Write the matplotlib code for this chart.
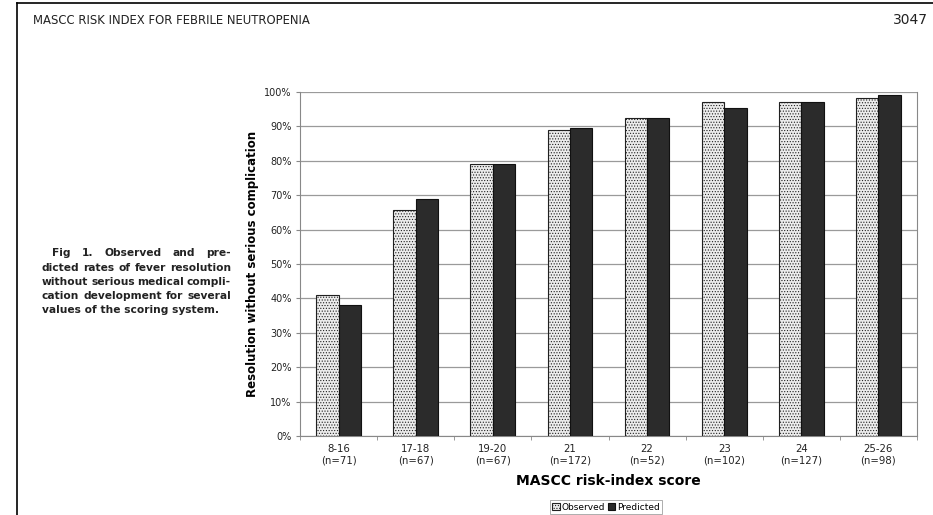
import matplotlib
matplotlib.use('Agg')
import matplotlib.pyplot as plt
from matplotlib.lines import Line2D
import numpy as np

scores = ['8-16', '17-18', '19-20', '21', '22', '23', '24', '25-26']
counts = [71, 67, 67, 172, 52, 102, 127, 98]
observed = [41, 65.8, 79.2, 89.0, 92.4, 97.2, 97.0, 98.2]
predicted = [38, 68.8, 79.2, 89.5, 92.4, 95.3, 97.0, 99.1]

caption = ['Fig 1. Observed and pre-',
           'dicted rates of fever resolution',
           'without serious medical compli-',
           'cation development for several',
           'values of the scoring system.']

plt.rcParams['hatch.color'] = '#9a9a9a'
plt.rcParams['hatch.linewidth'] = 0.5

fig = plt.figure(figsize=(9.33, 5.15), dpi=100)
ax = fig.add_axes([300/933, 79/515, 617/933, 344/515])

x = np.arange(len(scores))
w = 0.29
ax.bar(x - w/2, observed, w, color='#ececec', edgecolor='#202020', linewidth=0.8,
       hatch='......', label='Observed', zorder=3)
ax.bar(x + w/2, predicted, w, color='#2b2b2b', edgecolor='#111111', linewidth=0.8,
       label='Predicted', zorder=3)

ax.set_xlim(-0.5, len(scores) - 0.5)
ax.set_ylim(0, 100)
ax.set_yticks(np.arange(0, 101, 10))
ax.set_yticklabels([f'{v}%' for v in range(0, 101, 10)], fontsize=7, color='#222222')
ax.yaxis.grid(True, color='#9a9a9a', linewidth=0.9, zorder=0)
ax.set_xticks(x)
ax.set_xticklabels([f'{s}\n(n={n})' for s, n in zip(scores, counts)], fontsize=7.3, color='#222222')
ax.tick_params(axis='x', length=0, pad=6)
ax.set_xticks(np.arange(-0.5, len(scores), 1), minor=True)
ax.tick_params(axis='x', which='minor', length=3, color='#888888')
ax.tick_params(axis='y', length=3, color='#888888', pad=3)
for side in ['left', 'bottom', 'right']:
    ax.spines[side].set_color('#888888')
ax.spines['top'].set_visible(False)

ax.set_ylabel('Resolution without serious complication', fontsize=8.5, fontweight='bold', labelpad=4)
ax.set_xlabel('MASCC risk-index score', fontsize=10, fontweight='bold', labelpad=6)

leg = ax.legend(loc='center', bbox_to_anchor=(606/933, 8/515), bbox_transform=fig.transFigure,
                ncol=2, fontsize=6.5, frameon=True, fancybox=False, edgecolor='#888888',
                handlelength=0.8, handleheight=0.8, handletextpad=0.2, columnspacing=0.3,
                borderpad=0.25, borderaxespad=0)
leg.get_frame().set_linewidth(0.6)

# page header and border
fig.text(33/933, 1 - 20/515, 'MASCC RISK INDEX FOR FEBRILE NEUTROPENIA', fontsize=8.4,
         va='center', color='#222222')
fig.text(928/933, 1 - 20/515, '3047', fontsize=10,
         va='center', ha='right', color='#222222')
fig.add_artist(Line2D([17/933, 1], [1 - 3/515, 1 - 3/515], color='black', linewidth=1.2))
fig.add_artist(Line2D([17/933, 17/933], [0, 1 - 3/515], color='black', linewidth=1.2))

# caption, justified between left edge and x=231 px
renderer = fig.canvas.get_renderer()
ys = [253, 268, 282, 296, 310]
right = 231
fs = 7.7
for i, (line, yy) in enumerate(zip(caption, ys)):
    left = 52 if i == 0 else 42
    words = line.split()
    if i == len(caption) - 1:
        fig.text(left/933, 1 - yy/515, line, fontsize=fs, fontweight='bold', va='center', color='#222222')
        continue
    texts = [fig.text(0, 1 - yy/515, wd, fontsize=fs, fontweight='bold', va='center', color='#222222')
             for wd in words]
    widths = [t.get_window_extent(renderer).width for t in texts]
    gap = (right - left - sum(widths)) / (len(words) - 1)
    pos = left
    for t, wdt in zip(texts, widths):
        t.set_x(pos/933)
        pos += wdt + gap

fig.savefig('out.png', dpi=100)
